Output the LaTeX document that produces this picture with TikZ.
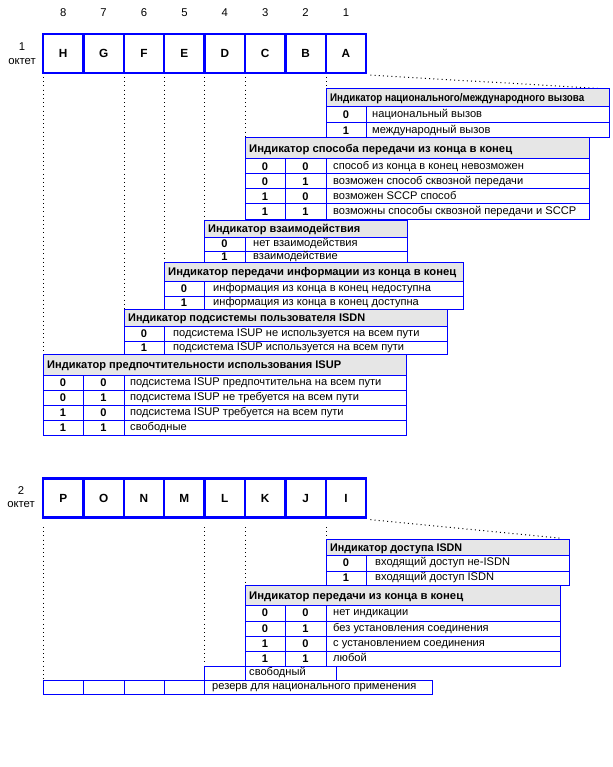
\documentclass[tikz,border=0pt]{standalone}
\usepackage{graphicx}
\usepackage{fontspec}
\setmainfont{Liberation Sans}
\definecolor{lblue}{RGB}{0,0,255}
\definecolor{hdrgray}{RGB}{230,230,230}
\tikzset{
 tline/.style={draw=lblue, line width=1pt},
 octcell/.style={draw=lblue, line width=2.3pt, minimum width=40.4pt, minimum height=39pt, inner sep=0pt, font=\fontsize{11.8}{13}\selectfont\bfseries},
 dotline/.style={line width=1pt, dash pattern=on 1pt off 3.2pt},
 hdrtext/.style={anchor=base west, inner sep=0pt},
 rowtext/.style={anchor=base west, inner sep=0pt, font=\fontsize{11.1}{13}\selectfont},
 valtext/.style={anchor=base, inner sep=0pt, font=\fontsize{11.1}{13}\selectfont\bfseries},
 numtext/.style={inner sep=0pt, font=\fontsize{11.3}{13}\selectfont},
}
\newsavebox{\fitbox}
\newcommand{\fitbold}[2]{%
 \sbox{\fitbox}{\fontsize{11.1}{13}\selectfont\bfseries #2}%
 \pgfmathsetmacro{\fitsx}{#1/\wd\fitbox}%
 \scalebox{\fitsx}[1]{\usebox{\fitbox}}}
\def\descx{7}
\newcommand{\hdrrow}[6]{%
 \draw[tline,fill=hdrgray] (#1,#3) rectangle (#2,#4);
 \node[hdrtext] at ({#1+4},{(#3+#4)/2+4}) {\fitbold{#6}{#5}};}
\newcommand{\rowA}[7]{%
 \draw[tline,fill=white] (#1,#4) rectangle (#3,#5);
 \draw[tline] (#2,#4) -- (#2,#5);
 \node[valtext] at ({(#1+#2)/2},{(#4+#5)/2+3.6}) {#6};
 \node[rowtext] at ({#2+\descx},{(#4+#5)/2+2.8}) {#7};}
\newcommand{\rowB}[9]{%
 \draw[tline,fill=white] (#1,#5) rectangle (#4,#6);
 \draw[tline] (#2,#5) -- (#2,#6);
 \draw[tline] (#3,#5) -- (#3,#6);
 \node[valtext] at ({(#1+#2)/2},{(#5+#6)/2+3.6}) {#7};
 \node[valtext] at ({(#2+#3)/2},{(#5+#6)/2+3.6}) {#8};
 \node[rowtext] at ({#3+\descx},{(#5+#6)/2+2.8}) {#9};}
\begin{document}
\begin{tikzpicture}[x=1pt,y=-1pt]
\useasboundingbox (0,0) rectangle (612,767);
% ---------- octet 1 ----------
\foreach \n [count=\i from 0] in {8,7,6,5,4,3,2,1}
  \node[numtext] (num\n) at ({63.2+40.4*\i},13) {\n};
\node[numtext] (oct1n) at (22,47) {1};
\node[numtext] (oct1l) at (22,62) {октет};
\foreach \L [count=\i from 0] in {H,G,F,E,D,C,B,A}
  \node[octcell] (o\L) at ({63.2+40.4*\i},53.5) {\L};
% dotted guides
\coordinate (t1tr) at (609,89);
\draw[dotline] (43,77) -- (43,354);
\draw[dotline] (124,77) -- (124,309);
\draw[dotline] (164,77) -- (164,262);
\draw[dotline] (204,77) -- (204,220);
\draw[dotline] (245,77) -- (245,138);
\draw[dotline] (326,77) -- (326,89);
\draw[dotline, shorten >=3pt] ([xshift=3pt,yshift=-1pt]oA.south east) -- (t1tr);
% tables
\def\descx{6}
\hdrrow{326}{609}{89}{107}{Индикатор национального/международного вызова}{254}
\rowA{326}{366}{609}{107}{123}{0}{национальный вызов}
\rowA{326}{366}{609}{123}{138}{1}{международный вызов}
\def\descx{7}
\hdrrow{245}{589}{138}{159}{Индикатор способа передачи из конца в конец}{263}
\rowB{245}{285}{326}{589}{159}{174}{0}{0}{способ из конца в конец невозможен}
\rowB{245}{285}{326}{589}{174}{189}{0}{1}{возможен способ сквозной передачи}
\rowB{245}{285}{326}{589}{189}{204}{1}{0}{возможен SCCP способ}
\rowB{245}{285}{326}{589}{204}{219}{1}{1}{возможны способы сквозной передачи и SCCP}
\def\descx{8}
\hdrrow{204}{407}{220}{237}{Индикатор взаимодействия}{152}
\rowA{204}{245}{407}{237}{251}{0}{нет взаимодействия}
\rowA{204}{245}{407}{251}{262}{1}{взаимодействие}
\def\descx{9}
\hdrrow{164}{463}{262}{281}{Индикатор передачи информации из конца в конец}{288}
\rowA{164}{204}{463}{281}{296}{0}{информация из конца в конец недоступна}
\rowA{164}{204}{463}{296}{309}{1}{информация из конца в конец доступна}
\hdrrow{124}{447}{309}{326}{Индикатор подсистемы пользователя ISDN}{237}
\rowA{124}{164}{447}{326}{341}{0}{подсистема ISUP не используется на всем пути}
\rowA{124}{164}{447}{341}{354}{1}{подсистема ISUP используется на всем пути}
\def\descx{6}
\hdrrow{43}{406}{354}{375}{Индикатор предпочтительности использования ISUP}{294}
\rowB{43}{83}{124}{406}{375}{390}{0}{0}{подсистема ISUP предпочтительна на всем пути}
\rowB{43}{83}{124}{406}{390}{405}{0}{1}{подсистема ISUP не требуется на всем пути}
\rowB{43}{83}{124}{406}{405}{420}{1}{0}{подсистема ISUP требуется на всем пути}
\rowB{43}{83}{124}{406}{420}{435}{1}{1}{свободные}
% ---------- octet 2 ----------
\node[numtext] (oct2n) at (21,491) {2};
\node[numtext] (oct2l) at (21,505) {октет};
\foreach \L [count=\i from 0] in {P,O,N,M,L,K,J,I}
  \node[octcell] (p\L) at ({63.2+40.4*\i},498) {\L};
\coordinate (t7tr) at (569,539);
\draw[dotline] (43,527) -- (43,680);
\draw[dotline] (204,527) -- (204,666);
\draw[dotline] (245,527) -- (245,585);
\draw[dotline] (326,527) -- (326,539);
\draw[dotline, shorten >=7pt] ([xshift=3pt,yshift=-1pt]pI.south east) -- (t7tr);
\def\descx{9}
\hdrrow{326}{569}{539}{555}{Индикатор доступа ISDN}{132}
\rowA{326}{366}{569}{555}{571}{0}{входящий доступ не-ISDN}
\rowA{326}{366}{569}{571}{585}{1}{входящий доступ ISDN}
\def\descx{7}
\hdrrow{245}{560}{585}{605}{Индикатор передачи из конца в конец}{214}
\rowB{245}{285}{326}{560}{605}{621}{0}{0}{нет индикации}
\rowB{245}{285}{326}{560}{621}{636}{0}{1}{без установления соединения}
\rowB{245}{285}{326}{560}{636}{651}{1}{0}{с установлением соединения}
\rowB{245}{285}{326}{560}{651}{666}{1}{1}{любой}
% free / reserve rows
\draw[tline,fill=white] (204,666) rectangle (336,680);
\draw[tline] (245,666) -- (245,680);
\node[rowtext] (free) at (249,675.8) {свободный};
\draw[tline,fill=white] (43,680) rectangle (432,694);
\foreach \xx in {83,124,164,204} \draw[tline] (\xx,680) -- (\xx,694);
\node[rowtext] (resv) at (212,689.8) {резерв для национального применения};
\end{tikzpicture}
\end{document}
